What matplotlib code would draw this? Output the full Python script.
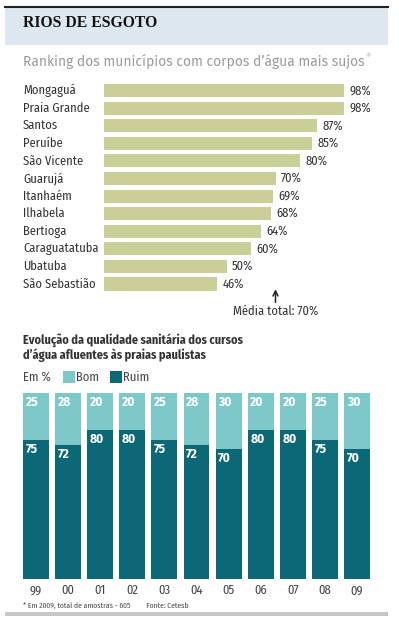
import numpy as np
import matplotlib.pyplot as plt
import matplotlib.transforms as mtransforms
from matplotlib.patches import Rectangle

# data
cities = ["Mongaguá", "Praia Grande", "Santos", "Peruíbe", "São Vicente", "Guarujá",
          "Itanhaém", "Ilhabela", "Bertioga", "Caraguatatuba", "Ubatuba", "São Sebastião"]
dirty_pct = [98, 98, 87, 85, 80, 70, 69, 68, 64, 60, 50, 46]
media_total = 70

years = ["99", "00", "01", "02", "03", "04", "05", "06", "07", "08", "09"]
bom = [25, 28, 20, 20, 25, 28, 30, 20, 20, 25, 30]
ruim = [75, 72, 80, 80, 75, 72, 70, 80, 80, 75, 70]

W, H = 399, 622
KHAKI = "#c9cf97"
LIGHT = "#7dc9c9"
DARK = "#0a6877"
NARROW = ["Fira Sans Condensed", "DejaVu Sans"]

fig = plt.figure(figsize=(W / 100, H / 100), dpi=100)
fig.patch.set_facecolor("white")


def px_rect(l, t, r, b):
    return [l / W, 1 - b / H, (r - l) / W, (b - t) / H]


def fx(x):
    return x / W


def fy(y):
    return 1 - y / H


# header
fig.patches.append(Rectangle((fx(5), fy(45)), fx(383), 38 / H, transform=fig.transFigure,
                             facecolor="#dde7ef", edgecolor="none"))
fig.add_artist(plt.Line2D([fx(5), fx(388)], [fy(6.5), fy(6.5)], color="#222222", lw=1.5))
fig.text(fx(23), fy(23), "RIOS DE ESGOTO", fontsize=11.3, fontweight="bold",
         family=["Liberation Serif", "DejaVu Serif"], va="center", color="#111111")
sub = fig.text(fx(23), fy(61), "Ranking dos municípios com corpos d’água mais sujos",
               fontsize=10, color="#9a9a9a", va="center", family=["Fira Sans", "DejaVu Sans"])
fig.canvas.draw()
bb = sub.get_window_extent()
fig.text(bb.x1 / W + 0.002, fy(57), "*", fontsize=8, color="#c0c0c0", va="center")

# ranking bars
ax1 = fig.add_axes(px_rect(104, 81.7, 349, 292.8))
y = np.arange(len(cities))
ax1.barh(y, dirty_pct, height=0.74, color=KHAKI, edgecolor="none")
ax1.set_xlim(0, 100)
ax1.set_ylim(len(cities) - 0.5, -0.5)
ax1.axis("off")
blend = mtransforms.blended_transform_factory(fig.transFigure, ax1.transData)
for i, (c, v) in enumerate(zip(cities, dirty_pct)):
    ax1.text(fx(23), i, c, transform=blend, fontsize=9, va="center", ha="left",
             family=NARROW, color="#333333")
    ax1.annotate(f"{v}%", (v, i), xytext=(4, 0), textcoords="offset points",
                 fontsize=9, va="center", ha="left", family=NARROW, color="#333333")
ax1.annotate("", xy=(media_total, 11.3), xytext=(media_total, 12.05),
             arrowprops=dict(arrowstyle="->", color="#222222", lw=1.1,
                             shrinkA=0, shrinkB=0, mutation_scale=9),
             annotation_clip=False)
ax1.text(media_total, 12.55, f"Média total: {media_total}%", fontsize=9, ha="center",
         va="center", family=NARROW, color="#333333", clip_on=False)

# bottom title and legend
fig.text(fx(23), fy(340), "Evolução da qualidade sanitária dos cursos", fontsize=8.8,
         fontweight="bold", family=NARROW, color="#333333", va="center")
fig.text(fx(23), fy(355), "d’água afluentes às praias paulistas", fontsize=8.8,
         fontweight="bold", family=NARROW, color="#333333", va="center")
fig.text(fx(23), fy(377), "Em %", fontsize=9, family=NARROW, color="#444444", va="center")
fig.patches.append(Rectangle((fx(63), fy(383)), 12 / W, 12 / H, transform=fig.transFigure,
                             facecolor=LIGHT, edgecolor="none"))
fig.text(fx(76), fy(377), "Bom", fontsize=9, family=NARROW, color="#444444", va="center")
fig.patches.append(Rectangle((fx(110), fy(383)), 12 / W, 12 / H, transform=fig.transFigure,
                             facecolor=DARK, edgecolor="none"))
fig.text(fx(123), fy(377), "Ruim", fontsize=9, family=NARROW, color="#444444", va="center")

# stacked bars
ax2 = fig.add_axes(px_rect(20, 393, 373, 579))
x = np.arange(len(years))
ax2.bar(x, ruim, width=0.81, color=DARK, edgecolor="none")
ax2.bar(x, bom, bottom=ruim, width=0.81, color=LIGHT, edgecolor="none")
ax2.set_xlim(-0.5, len(years) - 0.5)
ax2.set_ylim(0, 100)
for s in ax2.spines.values():
    s.set_visible(False)
ax2.set_yticks([])
ax2.set_xticks(x)
ax2.set_xticklabels(years, fontsize=9, family=NARROW, color="#444444")
ax2.tick_params(axis="x", length=0, pad=4)
for i in range(len(years)):
    ax2.annotate(str(bom[i]), (i - 0.405, 100), xytext=(2, -2.5), textcoords="offset points",
                 fontsize=9.5, fontweight="bold", color="white", ha="left", va="top",
                 family=NARROW)
    ax2.annotate(str(ruim[i]), (i - 0.405, ruim[i]), xytext=(2, -2.5), textcoords="offset points",
                 fontsize=9.5, fontweight="bold", color="white", ha="left", va="top",
                 family=NARROW)

# footnote and bottom rule
fig.text(fx(23), fy(606), "* Em 2009, total de amostras - 605         Fonte: Cetesb",
         fontsize=5.5, family=NARROW, color="#444444", va="center")
fig.patches.append(Rectangle((fx(5), fy(616)), fx(383), 4 / H, transform=fig.transFigure,
                             facecolor="#c6c6c6", edgecolor="none"))

fig.savefig("out.png", dpi=100)
